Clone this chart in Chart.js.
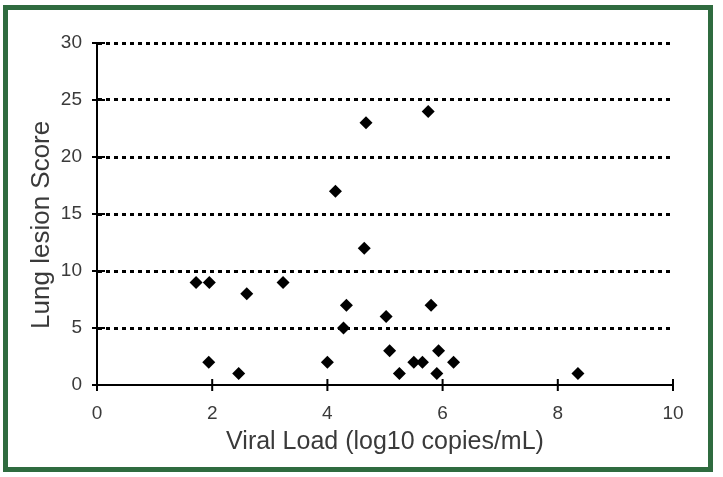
<!DOCTYPE html>
<html>
<head>
<meta charset="utf-8">
<script src="https://cdn.jsdelivr.net/npm/chart.js@4"></script>
<style>
body{margin:0;background:#fff}
#wrap{position:relative;width:723px;height:477px}
#frame{position:absolute;left:3px;top:5px;width:700px;height:457px;border:5px solid #2f6b3f;pointer-events:none}
canvas{position:absolute;left:0;top:0}
</style>
</head>
<body>
<div id="wrap">
<canvas id="chart" width="723" height="477"></canvas>
<div id="frame"></div>
</div>
<script>
// viral load (log10 copies/mL) vs lung lesion score
const viralLoad = [1.72,1.95,1.94,2.46,2.6,3.23,4.0,4.14,4.28,4.33,4.64,4.67,5.02,5.08,5.25,5.5,5.65,5.75,5.8,5.93,5.9,6.19,8.35]
const lesionScore = [9,9,2,1,8,9,2,17,5,7,12,23,6,3,1,2,2,24,7,3,1,2,1]

const xTicks = [0,2,4,6,8,10]
const yTicks = [0,5,10,15,20,25,30]

let points=[]
for (let i=0;i<viralLoad.length;i++){
    points.push({x:viralLoad[i], y:lesionScore[i]})
}

const tickFont = {family:"'Liberation Sans', Arial, sans-serif", size:19}
const xTitleFont = {family:"'Liberation Sans', Arial, sans-serif", size:25}
const yTitleFont = {family:"'Liberation Sans', Arial, sans-serif", size:26}

// ticks that cross the axis line on both sides
const crossTicks = {
    id:"crossTicks",
    afterDraw(chart){
        const ctx = chart.ctx
        const xs = chart.scales.x
        const ys = chart.scales.y
        ctx.save()
        ctx.strokeStyle="#000"
        ctx.lineWidth=2
        ctx.beginPath()
        for (let v of xTicks){
            const px = xs.getPixelForValue(v)
            ctx.moveTo(px, ys.bottom-6)
            ctx.lineTo(px, ys.bottom+6)
        }
        for (let v of yTicks){
            const py = ys.getPixelForValue(v)
            ctx.moveTo(xs.left-5, py)
            ctx.lineTo(xs.left+8, py)
        }
        ctx.stroke()
        ctx.restore()
    }
}

new Chart(document.getElementById("chart"), {
    type:"scatter",
    data:{
        datasets:[{
            data:points,
            pointStyle:"rectRot",
            pointRadius:6.5,
            pointHoverRadius:6.5,
            backgroundColor:"#000",
            borderColor:"#000",
            borderWidth:0
        }]
    },
    options:{
        responsive:false,
        animation:false,
        events:[],
        layout:{padding:{left:21,right:50,top:43,bottom:18}},
        plugins:{legend:{display:false},tooltip:{enabled:false}},
        scales:{
            x:{
                type:"linear",
                min:0,max:10,
                afterBuildTicks(s){ s.ticks = xTicks.map(v=>({value:v})) },
                afterFit(s){ s.height = 74 },
                grid:{display:false},
                border:{display:true,color:"#000",width:2},
                ticks:{color:"#3a3a3a",font:tickFont,padding:9,maxRotation:0},
                title:{display:true,text:"Viral Load (log10 copies/mL)",color:"#3a3a3a",font:xTitleFont,padding:{top:0,bottom:2}}
            },
            y:{
                type:"linear",
                min:0,max:30,
                afterBuildTicks(s){ s.ticks = yTicks.map(v=>({value:v})) },
                afterFit(s){ s.width = 76 },
                grid:{
                    drawTicks:false,
                    lineWidth:3,
                    color:c=>c.tick && c.tick.value===0 ? "rgba(0,0,0,0)" : "#000"
                },
                border:{display:true,color:"#000",width:2,dash:[4,4]},
                ticks:{color:"#3a3a3a",font:tickFont,padding:15},
                title:{display:true,text:"Lung lesion Score   ",color:"#3a3a3a",font:yTitleFont,padding:{top:5,bottom:0}}
            }
        }
    },
    plugins:[crossTicks]
})
</script>
</body>
</html>
